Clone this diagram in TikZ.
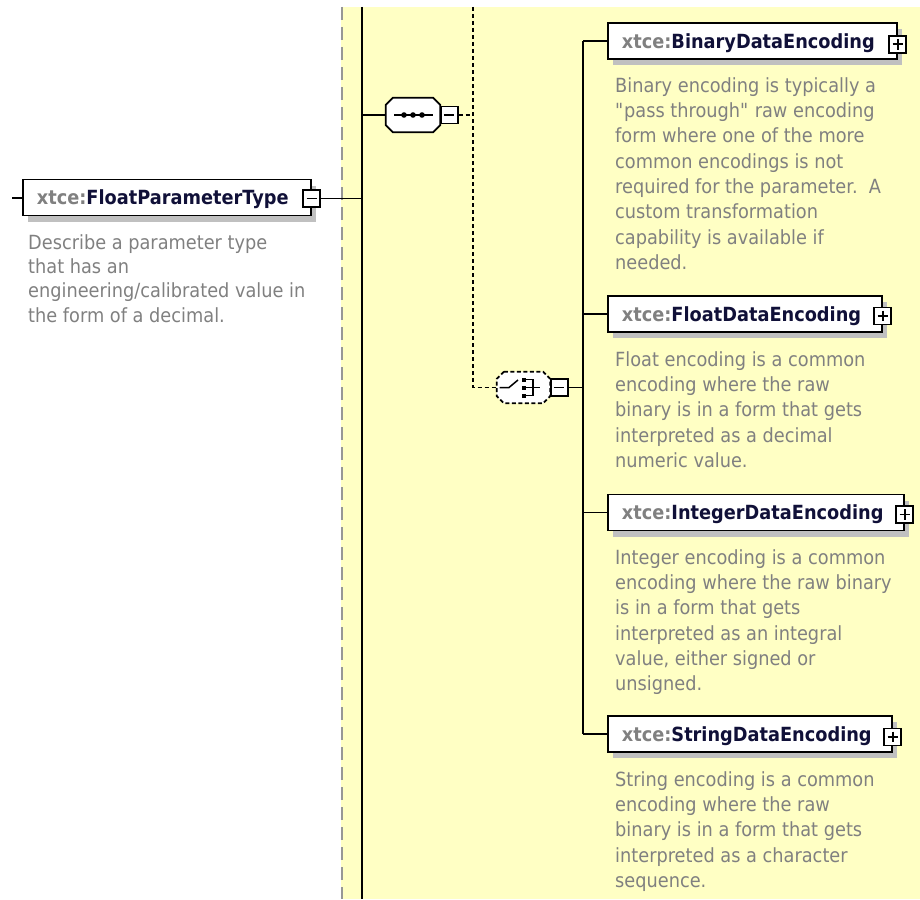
\documentclass[tikz,border=0pt]{standalone}
\usepackage{fontspec}
\setmainfont[FakeStretch=0.91]{DejaVu Sans}
\usetikzlibrary{shadows,calc}
\definecolor{bgyellow}{RGB}{255,255,196}
\definecolor{desc}{RGB}{128,128,128}
\definecolor{pfx}{RGB}{128,128,128}
\definecolor{nm}{RGB}{16,16,56}
\definecolor{shd}{RGB}{192,192,192}
\definecolor{dashgray}{RGB}{150,150,150}
\newcommand\elname[2]{\makebox[#1][l]{\color{pfx}xtce:\color{nm}#2}}
% octagon path around a named node: #1 node, #2 chamfer
\newcommand\octpath[2]{($(#1.north west)+(#2,0)$) -- ($(#1.north east)+(-#2,0)$) -- ($(#1.north east)+(0,#2)$)
  -- ($(#1.south east)+(0,-#2)$) -- ($(#1.south east)+(-#2,0)$) -- ($(#1.south west)+(#2,0)$)
  -- ($(#1.south west)+(0,-#2)$) -- ($(#1.north west)+(0,#2)$) -- cycle}
\tikzset{
  conn/.style={line width=1.8pt, draw=black},
  dconn/.style={line width=1.8pt, draw=black, dash pattern=on 4pt off 3pt},
  myshadow/.style={drop shadow={shadow xshift=5pt, shadow yshift=-6pt, fill=shd, opacity=1}},
  elem/.style={draw=black, line width=1.8pt, fill=white, minimum height=36pt,
    inner xsep=14pt, inner ysep=0pt, text height=14.2pt, text depth=0pt, myshadow,
    anchor=west, font=\fontsize{19.5pt}{24pt}\selectfont\bfseries},
  tog/.style={draw=black, line width=1.8pt, fill=white, minimum size=17pt, inner sep=0pt},
  minusbox/.style={tog, path picture={\draw[line width=1.7pt]
     ([xshift=3.2pt]path picture bounding box.west) -- ([xshift=-3.2pt]path picture bounding box.east);}},
  plusbox/.style={tog, path picture={\draw[line width=1.7pt]
     ([xshift=3.2pt]path picture bounding box.west) -- ([xshift=-3.2pt]path picture bounding box.east)
     ([yshift=-3.2pt]path picture bounding box.north) -- ([yshift=3.2pt]path picture bounding box.south);}},
  octbox/.style={inner sep=0pt},
  octdraw/.style={draw=black, line width=1.8pt, fill=white},
  descr/.style={anchor=north west, inner sep=0pt, align=left, text=desc},
}
\begin{document}
\begin{tikzpicture}[x=1pt,y=-1pt]
\useasboundingbox (0,0) rectangle (920,899);
% background panel
\fill[bgyellow] (341,7) rectangle (920,899);
\coordinate (g1) at (342,7);
\coordinate (g2) at (342,899);
\draw[dashgray, line width=1.8pt, dash pattern=on 13pt off 7pt] (g1) -- (g2);
% main vertical line
\coordinate (v1top) at (362,7);
\coordinate (v1bot) at (362,899);
\draw[conn] (v1top) -- (v1bot);
\coordinate (v2top) at (473,7);
\coordinate (v3) at (583,0);
\coordinate (stub) at (12,198);

% root element
\node[elem] (fpt) at (22,197.5) {\elname{260pt}{FloatParameterType}};
\node[minusbox] (fptm) at ([yshift=-1pt]fpt.east) {};
\draw[conn] (stub) -- (stub -| fpt.west);
\draw[conn] (fptm.east) -- (fptm.east -| v1top);
\node[descr, font=\fontsize{19.5pt}{24.3pt}\selectfont] (fptd) at (28,233)
  {\rule{0pt}{16pt}Describe a parameter type\\that has an\\engineering/calibrated value in\\the form of a decimal.};

% sequence compositor
\node[octbox, minimum width=54pt, minimum height=34pt] (seq) at (413,115) {};
\begin{scope}[shift={(5,6)}]
  \fill[shd] \octpath{seq}{7};
\end{scope}
\draw[octdraw] \octpath{seq}{7};
\node[minusbox, anchor=west] (seqm) at ([xshift=-0.5pt]seq.east) {};
\draw[conn] (seq.west -| v1top) -- (seq.west);
\draw[line width=1.6pt] ($(seq.center)+(-19,0)$) -- ($(seq.center)+(20,0)$);
\fill ($(seq.center)+(-9,0)$) circle (2.8pt);
\fill ($(seq.center)+(0,0)$) circle (2.8pt);
\fill ($(seq.center)+(9,0)$) circle (2.8pt);
\draw[dconn] (seqm.east) -- (seqm.east -| v2top);

% choice compositor (optional)
\node[octbox, minimum width=53pt, minimum height=31pt] (chc) at (523.5,387.5) {};
\begin{scope}[shift={(5,6)}]
  \fill[shd] \octpath{chc}{7};
\end{scope}
\draw[octdraw, dash pattern=on 4pt off 2.5pt] \octpath{chc}{7};
\node[minusbox, anchor=west] (chcm) at ([xshift=-0.5pt]chc.east) {};
\draw[dconn] (v2top) -- (v2top |- chc.west) -- (chc.west);
\draw[line width=1.5pt] ($(chc.center)+(-24,0)$) -- ($(chc.center)+(-14.5,0)$) -- ($(chc.center)+(-5.5,-7.5)$);
\foreach \dy in {-8,0,8}{\fill ($(chc.center)+(-1.5,\dy-2)$) rectangle ($(chc.center)+(2.2,\dy+2)$);}
\draw[line width=1.5pt] ($(chc.center)+(2.5,-8)$) -- ($(chc.center)+(9.5,-8)$) -- ($(chc.center)+(9.5,8)$) -- ($(chc.center)+(2.5,8)$);
\draw[line width=1.5pt] ($(chc.center)+(2.5,0)$) -- ($(chc.center)+(16,0)$);
\draw[conn] (chcm.east) -- (chcm.east -| v3);

% child elements
\node[elem] (bde) at (607,41.3) {\elname{261pt}{BinaryDataEncoding}};
\node[elem] (fde) at (607,314) {\elname{246pt}{FloatDataEncoding}};
\node[elem] (ide) at (607,512.5) {\elname{268pt}{IntegerDataEncoding}};
\node[elem] (sde) at (607,734) {\elname{256pt}{StringDataEncoding}};
\node[plusbox] (bdep) at ([yshift=-3pt]bde.east) {};
\node[plusbox] (fdep) at ([yshift=-2pt]fde.east) {};
\node[plusbox] (idep) at ([yshift=-2pt]ide.east) {};
\node[plusbox] (sdep) at ([yshift=-3pt]sde.east) {};

\draw[conn] (bde.west -| v3) -- (sde.west -| v3);
\draw[conn] (bde.west -| v3) -- (bde.west);
\draw[conn] (fde.west -| v3) -- (fde.west);
\draw[conn] (ide.west -| v3) -- (ide.west);
\draw[conn] (sde.west -| v3) -- (sde.west);

\begin{scope}[every node/.style={descr, font=\fontsize{19.5pt}{25.3pt}\selectfont}]
\node (bdd) at (615,76) {\rule{0pt}{16pt}Binary encoding is typically a\\\textquotedbl pass through\textquotedbl{} raw encoding\\form where one of the more\\common encodings is not\\required for the parameter.\ \ A\\custom transformation\\capability is available if\\needed.};
\node (fdd) at (615,350) {\rule{0pt}{16pt}Float encoding is a common\\encoding where the raw\\binary is in a form that gets\\interpreted as a decimal\\numeric value.};
\node (idd) at (615,548) {\rule{0pt}{16pt}Integer encoding is a common\\encoding where the raw binary\\is in a form that gets\\interpreted as an integral\\value, either signed or\\unsigned.};
\node (sdd) at (615,770) {\rule{0pt}{16pt}String encoding is a common\\encoding where the raw\\binary is in a form that gets\\interpreted as a character\\sequence.};
\end{scope}
\end{tikzpicture}
\end{document}
